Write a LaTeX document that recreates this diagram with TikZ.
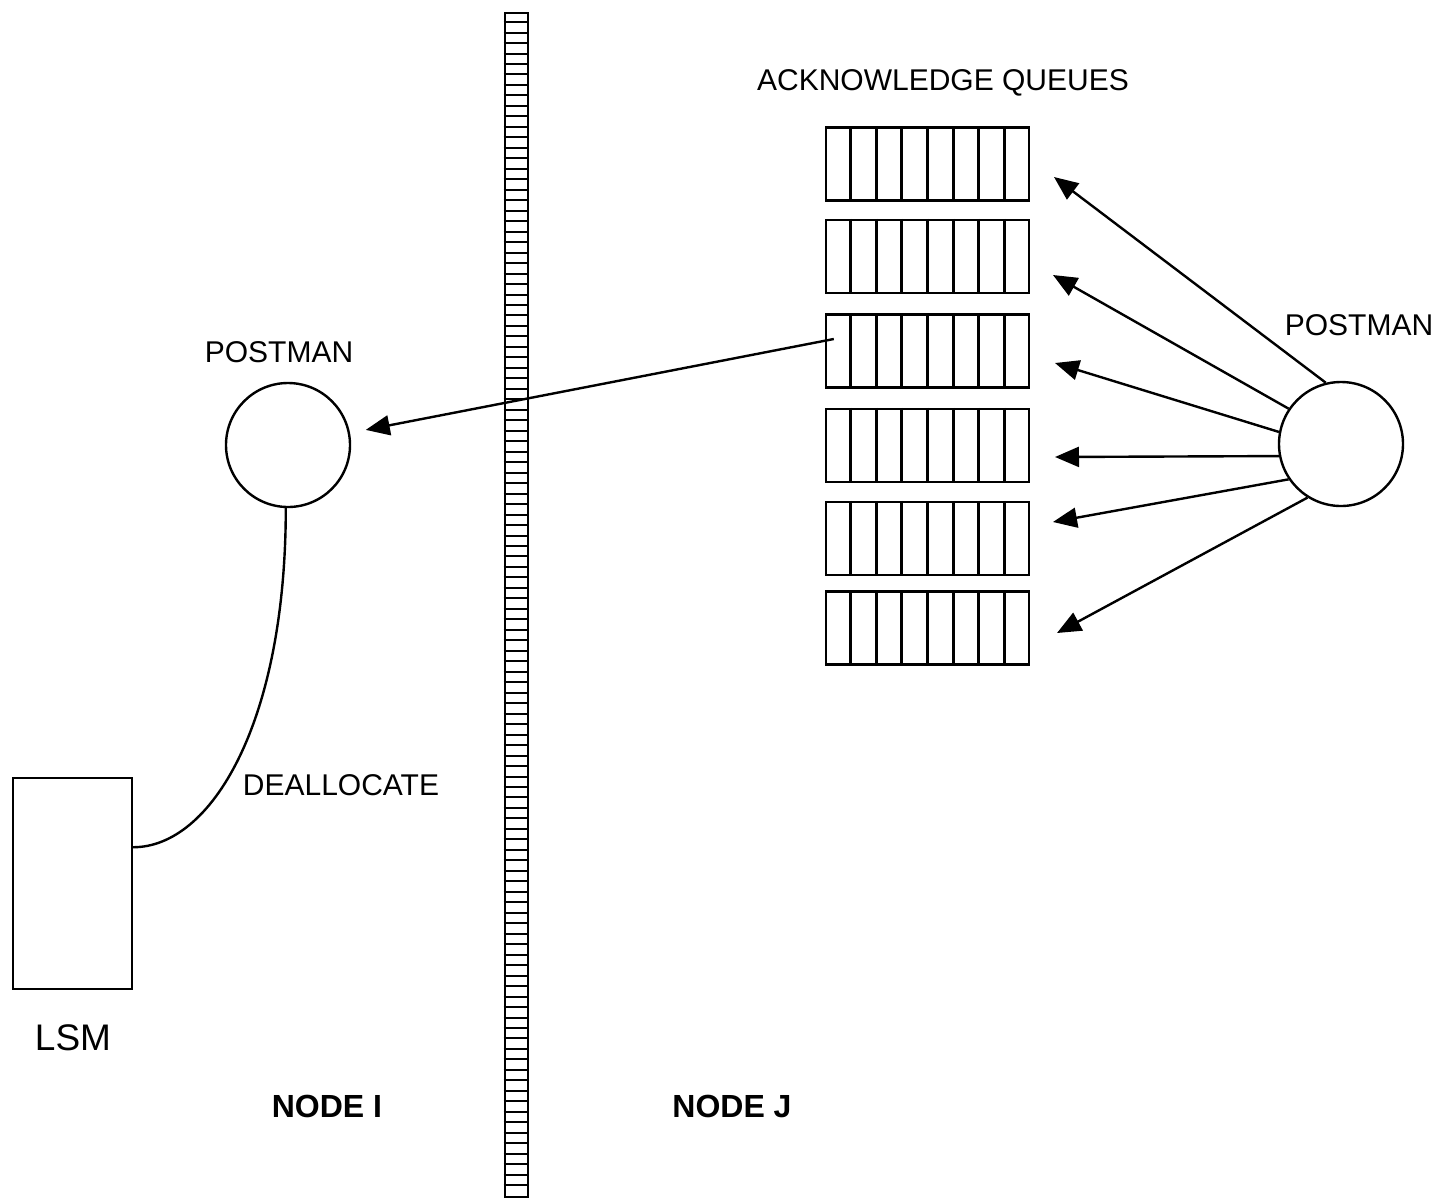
\documentclass[tikz,border=0pt]{standalone}
\usepackage{fontspec}
\setmainfont{Liberation Sans}
\usetikzlibrary{arrows.meta,calc}
\begin{document}
\begin{tikzpicture}[x=0.5pt,y=-0.5pt,
  line/.style={line width=1.2pt},
  arr/.style={line width=1.2pt,-{Triangle[length=12pt,width=10pt]}},
  lbl/.style={font=\fontsize{15}{18}\selectfont, inner sep=0pt, anchor=base},
  biglbl/.style={font=\fontsize{18.5}{22}\selectfont, inner sep=0pt, anchor=base},
  nodelbl/.style={font=\fontsize{16}{19}\selectfont\bfseries, inner sep=0pt, anchor=base},
  queue/.style={draw,line width=1.2pt,minimum width=101.5pt,minimum height=36.5pt,inner sep=0pt},
  postman/.style={draw,circle,line width=1.2pt,minimum size=62pt,inner sep=0pt},
  barbox/.style={draw,line width=1.4pt,minimum width=11.5pt,minimum height=592pt,inner sep=0pt},
  lsmbox/.style={draw,line width=1.2pt,minimum width=59.5pt,minimum height=105.5pt,inner sep=0pt}
]
\useasboundingbox (0,0) rectangle (1437,1201);

% partition bar
\node[barbox] (bar) at (516.5,605) {};
\foreach \i in {1,...,112}
  \draw[line width=1pt] ($(bar.north west)+(0,\i*10.478)$) -- ++(23,0);

% acknowledge queues
\foreach \n/\y in {1/164,2/256.5,3/351,4/445.5,5/538.5,6/628}
  \node[queue] (q\n) at (927.5,\y) {};
\foreach \n in {1,...,6}
  \foreach \k in {1,...,7}
    \draw[line width=1.4pt] ($(q\n.north west)!\k/8!(q\n.north east)$) -- ($(q\n.south west)!\k/8!(q\n.south east)$);

% postmen
\node[postman] (pl) at (288,445) {};
\node[postman] (pr) at (1341,444) {};

% LSM
\node[lsmbox] (lsm) at (72.5,883.5) {};

% arrow tips near the queues
\coordinate (t1) at (1054,177);
\coordinate (t2) at (1053,275);
\coordinate (t3) at (1055,363);
\coordinate (t4) at (1055,457);
\coordinate (t5) at (1053,522);
\coordinate (t6) at (1057,633);

\draw[arr] (pr.104) -- (t1);
\draw[arr] (pr.146) -- (t2);
\draw[arr] (pr.169) -- (t3);
\draw[arr] (pr.191) -- (t4);
\draw[arr] (pr.214) -- (t5);
\draw[arr] (pr.238) -- (t6);

% from queue 3 to the left postman
\draw[arr, shorten >=8pt] ($(q3.west)+(9,-12)$) -- (pl);

% deallocate connection
\coordinate (lsmc) at ($(lsm.north east)!0.33!(lsm.south east)$);
\draw[line] (pl.268) .. controls +(0,215) and +(78,0) .. (lsmc);

% labels
\node[lbl] (ackl) at (943,90) {ACKNOWLEDGE QUEUES};
\node[lbl] (pll) at (279,362) {POSTMAN};
\node[lbl] (prl) at (1359,335) {POSTMAN};
\node[lbl] (deal) at (341,795) {DEALLOCATE};
\node[biglbl] (lsml) at (73,1050) {LSM};
\node[nodelbl] (ni) at (327,1117) {NODE I};
\node[nodelbl] (nj) at (732,1117) {NODE J};
\end{tikzpicture}
\end{document}
